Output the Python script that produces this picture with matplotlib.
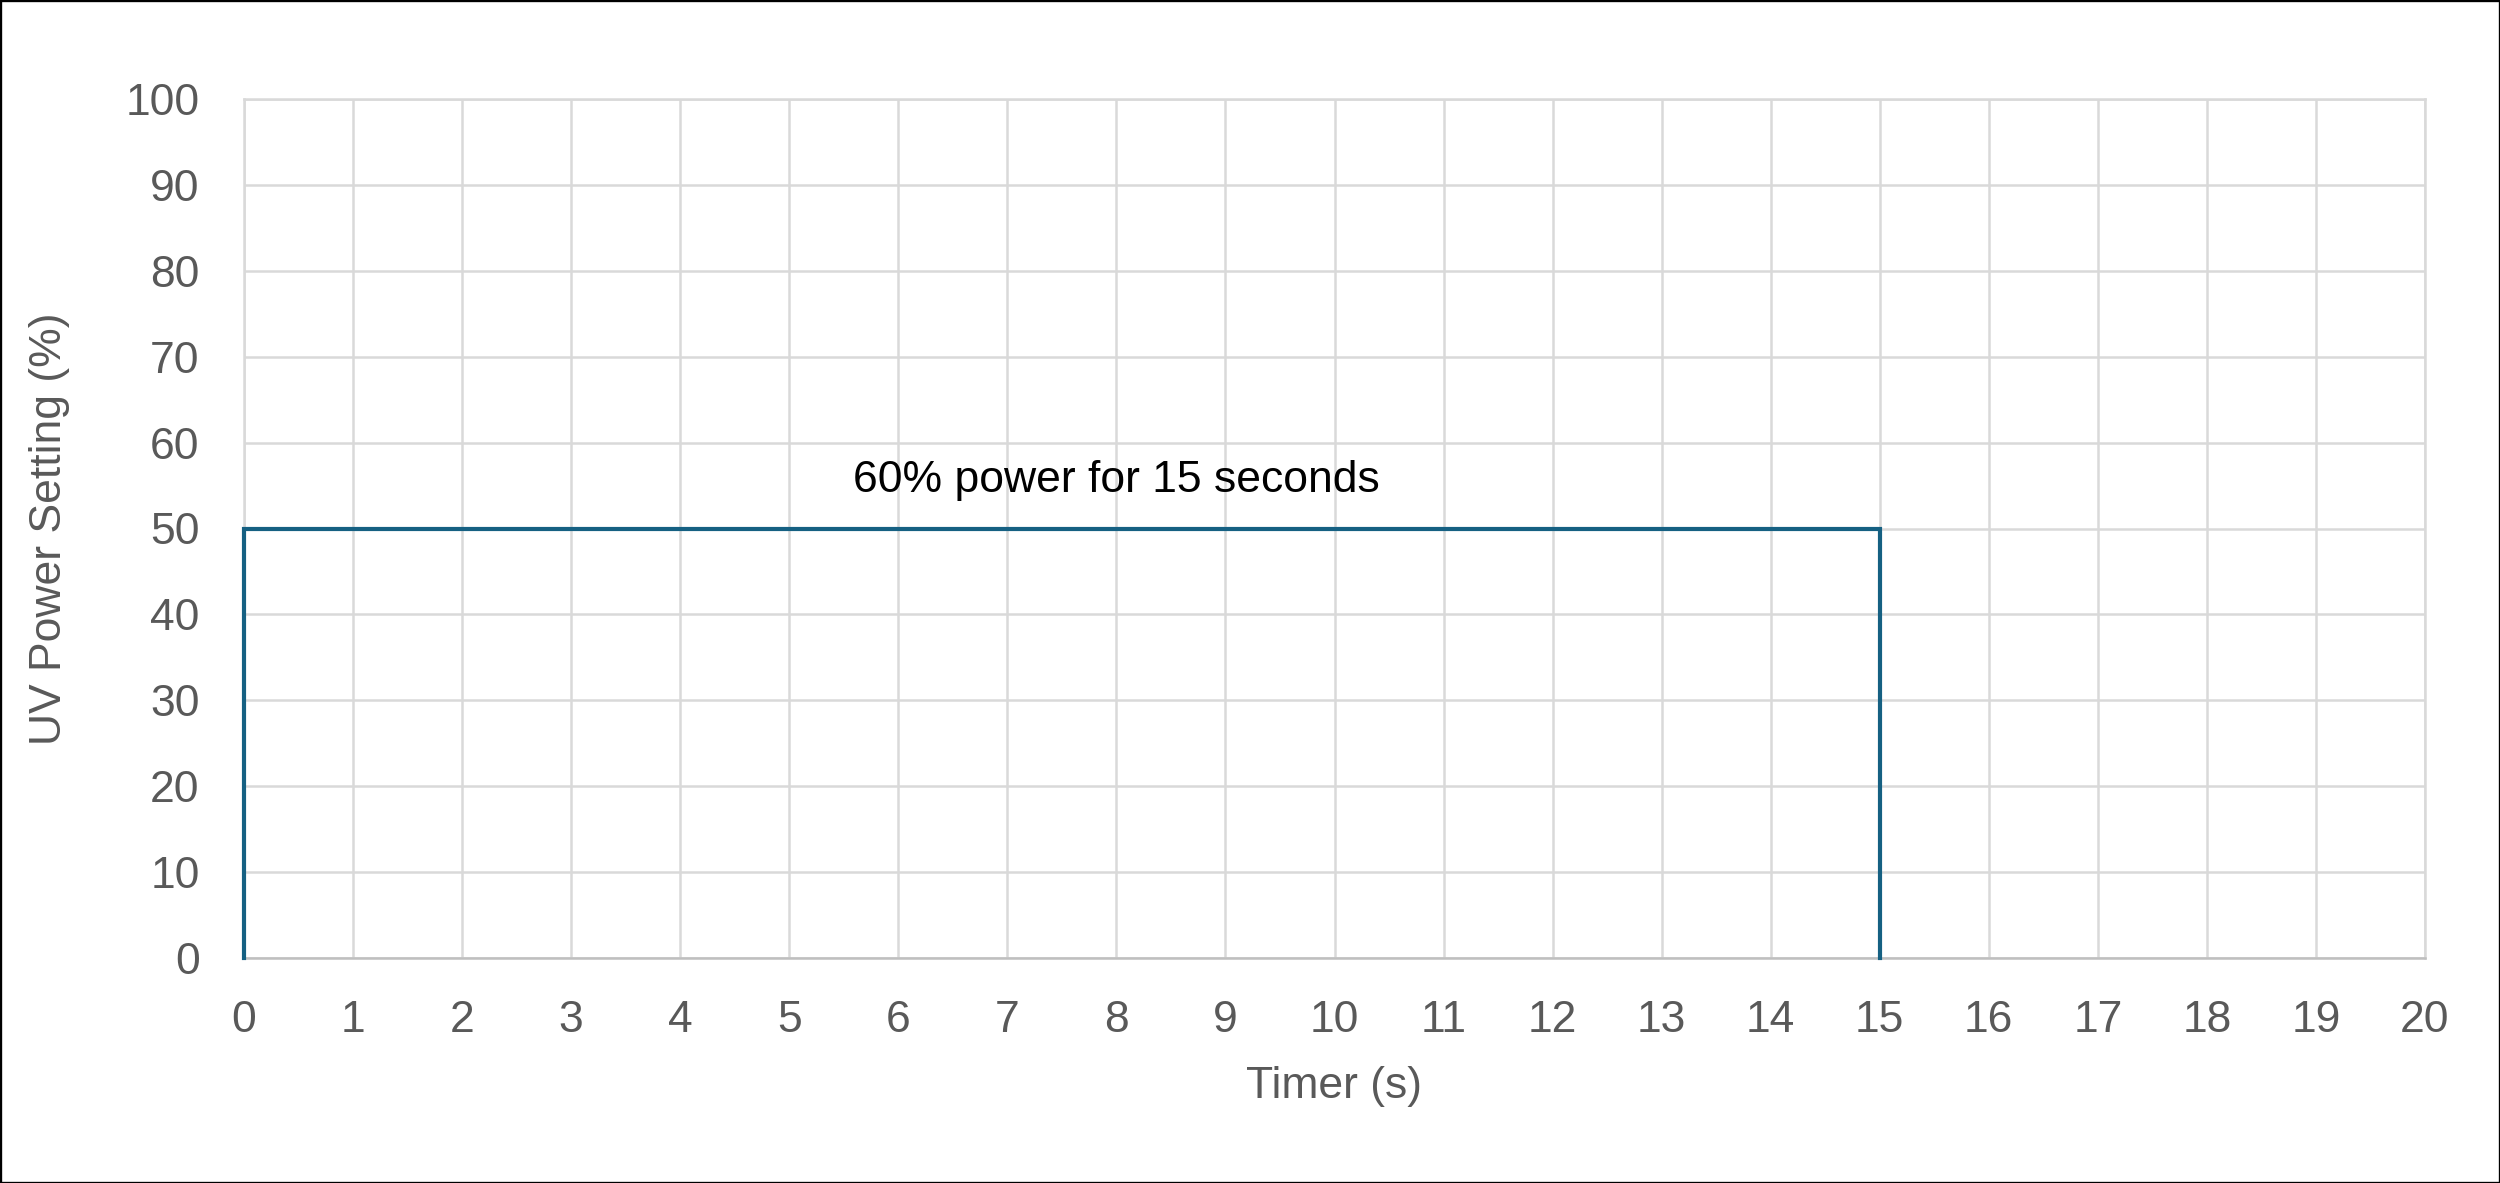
import matplotlib
matplotlib.use('Agg')
import matplotlib.pyplot as plt
from matplotlib.patches import Rectangle

# Data
timer = [0, 0, 15, 15]
power = [0, 50, 50, 0]
x_ticks = list(range(0, 21))
y_ticks = list(range(0, 101, 10))
note = '60% power for 15 seconds'

plt.rcParams['font.family'] = ['Liberation Sans', 'DejaVu Sans']

fig = plt.figure(figsize=(12.5, 5.915), dpi=200)
ax = fig.add_axes([244 / 2500, 1 - 958 / 1183, (2425 - 244) / 2500, (958 - 99) / 1183])

ax.plot(timer, power, color='#156082', linewidth=1.5, solid_joinstyle='miter', zorder=3, clip_on=False)

ax.set_xlim(0, 20)
ax.set_ylim(0, 100)
ax.set_xticks(x_ticks)
ax.set_yticks(y_ticks)
ax.grid(True, color='#d9d9d9', linewidth=0.9)
ax.set_axisbelow(True)
for s in ax.spines.values():
    s.set_color('#d9d9d9')
    s.set_linewidth(0.9)
ax.spines['bottom'].set_color('#bfbfbf')
ax.tick_params(length=0, labelsize=16, labelcolor='#595959', pad=15)
ax.tick_params(axis='y', pad=16)

ax.set_xlabel('Timer (s)', fontsize=16, color='#595959', labelpad=9)
ax.set_ylabel('UV Power Setting (%)', fontsize=16, color='#595959', labelpad=20)

ax.text(8, 55.6, note, fontsize=16, color='black', ha='center', va='center')

fig.patches.append(Rectangle((0, 0), 1, 1, transform=fig.transFigure, fill=False,
                             edgecolor='black', linewidth=1.2))

fig.savefig('out.png', dpi=200)
